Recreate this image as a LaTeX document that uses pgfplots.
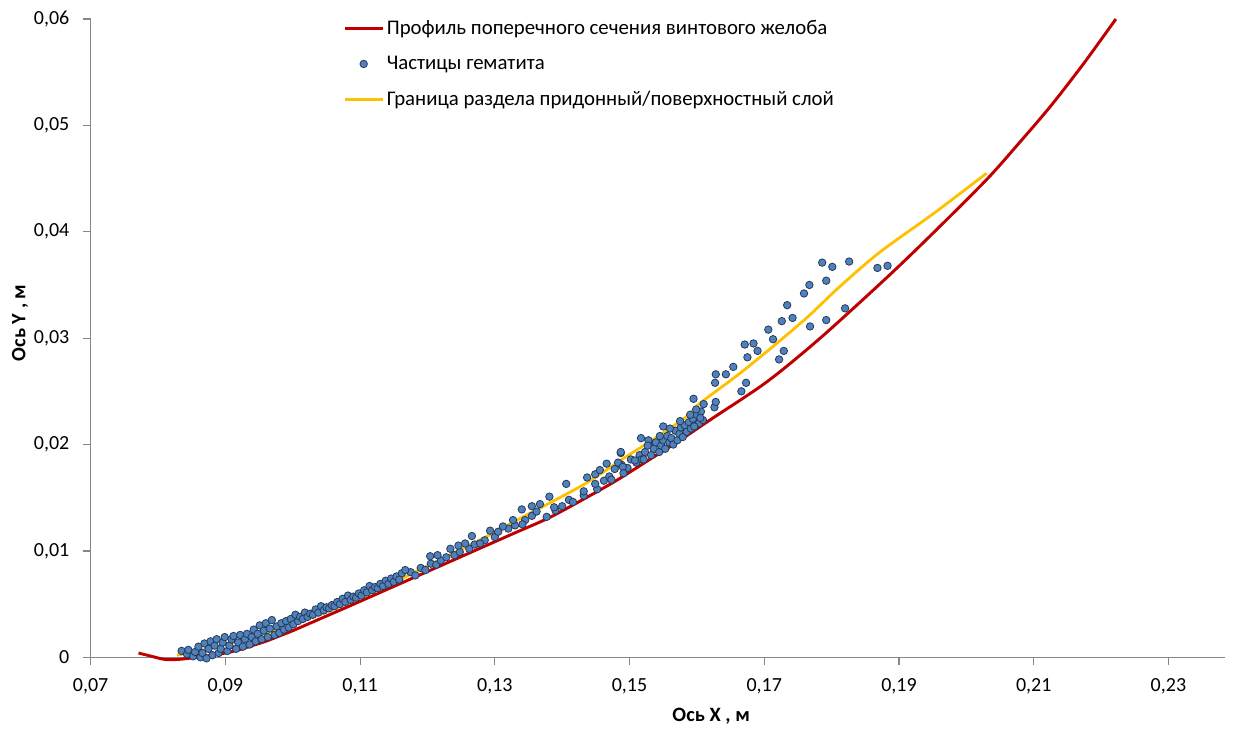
\documentclass[border=0pt]{standalone}
\usepackage{fontspec}
\setmainfont{Carlito}
\usepackage{pgfplots}
\pgfplotsset{compat=1.18}
\definecolor{redc}{RGB}{192,0,0}
\definecolor{yelc}{RGB}{255,192,0}
\definecolor{dotf}{RGB}{79,129,189}
\definecolor{dotd}{RGB}{38,58,88}
\definecolor{axg}{RGB}{134,134,134}
\begin{document}
\begin{tikzpicture}
\begin{axis}[name=ax, scale only axis, width=850.7pt, height=478.7pt,
 xmin=0.07, xmax=0.2384, ymin=0, ymax=0.06, clip=false,
 axis lines=left, axis line style={-, draw=axg, line width=0.9pt},
 xtick={0.07,0.09,0.11,0.13,0.15,0.17,0.19,0.21,0.23},
 ytick={0,0.01,0.02,0.03,0.04,0.05,0.06},
 tick align=outside, major tick length=6pt, tick style={draw=axg, line width=0.9pt},
 scaled ticks=false,
 ticklabel style={font=\fontsize{15}{18}\selectfont, /pgf/number format/fixed, /pgf/number format/precision=2, /pgf/number format/use comma, /pgf/number format/assume math mode=true},
 xticklabel style={yshift=-6.5pt},
 yticklabel style={xshift=-6.5pt},
 xlabel={Ось X , м}, ylabel={Ось Y , м},
 label style={font=\fontsize{15.3}{18}\selectfont\bfseries},
 xlabel style={at={(axis description cs:0.547,0)}, anchor=center, yshift=-44.5pt},
 ylabel style={at={(axis description cs:0,0.524)}, anchor=center, yshift=53pt},
 legend style={draw=none, fill=none, at={(axis description cs:0.2224,1.002)}, anchor=north west, font=\fontsize{15.6}{18.7}\selectfont, row sep=10.6pt, inner sep=0pt},
 legend cell align=left,
 legend image code/.code={\draw[mark repeat=2,mark phase=2,#1] plot coordinates {(0pt,0pt) (14.25pt,0pt) (28.5pt,0pt)};},
]
\addplot[redc, line width=2.2pt, no marks, smooth] table {
0.0771 0.0004
0.0790 0.0001
0.0810 -0.0002
0.0830 -0.0002
0.0845 -0.0001
0.0860 0.0000
0.0880 0.0002
0.0900 0.0004
0.0920 0.0007
0.0940 0.0011
0.0960 0.0015
0.0980 0.0020
0.1000 0.0025
0.1040 0.0036
0.1080 0.0047
0.1130 0.0061
0.1180 0.0075
0.1230 0.0089
0.1280 0.0103
0.1330 0.0117
0.1380 0.0131
0.1430 0.0148
0.1480 0.0166
0.1530 0.0186
0.1570 0.0202
0.1624 0.0225
0.1704 0.0259
0.1783 0.0300
0.1882 0.0357
0.1951 0.0399
0.2030 0.0449
0.2075 0.0481
0.2125 0.0518
0.2174 0.0558
0.2222 0.0600
};
\addlegendentry{Профиль поперечного сечения винтового желоба}
\addplot[only marks, mark=*, mark size=2.8pt, mark options={fill=dotf, draw=dotd, line width=0.6pt}] table {
0.0835 0.0006
0.0843 0.0003
0.0845 0.0007
0.0852 0.0001
0.0855 0.0005
0.0860 0.0010
0.0863 0.0000
0.0866 0.0004
0.0869 0.0013
0.0872 -0.0001
0.0875 0.0008
0.0878 0.0015
0.0881 0.0002
0.0884 0.0011
0.0887 0.0017
0.0890 0.0004
0.0893 0.0008
0.0896 0.0014
0.0899 0.0019
0.0903 0.0006
0.0906 0.0011
0.0909 0.0017
0.0912 0.0020
0.0916 0.0008
0.0919 0.0014
0.0922 0.0021
0.0926 0.0010
0.0929 0.0017
0.0932 0.0022
0.0936 0.0012
0.0939 0.0019
0.0942 0.0026
0.0945 0.0015
0.0948 0.0022
0.0951 0.0030
0.0954 0.0017
0.0957 0.0025
0.0960 0.0032
0.0963 0.0019
0.0966 0.0027
0.0969 0.0035
0.0973 0.0021
0.0976 0.0029
0.0980 0.0023
0.0983 0.0032
0.0987 0.0026
0.0990 0.0034
0.0994 0.0028
0.0997 0.0036
0.1001 0.0031
0.1004 0.0040
0.1008 0.0034
0.1011 0.0038
0.1015 0.0036
0.1018 0.0042
0.1022 0.0038
0.1026 0.0041
0.1030 0.0040
0.1034 0.0045
0.1038 0.0042
0.1042 0.0048
0.1046 0.0044
0.1050 0.0047
0.1054 0.0046
0.1058 0.0049
0.1062 0.0048
0.1066 0.0052
0.1070 0.0050
0.1074 0.0055
0.1078 0.0052
0.1082 0.0058
0.1086 0.0054
0.1090 0.0057
0.1094 0.0056
0.1098 0.0060
0.1102 0.0058
0.1106 0.0063
0.1110 0.0061
0.1114 0.0067
0.1118 0.0063
0.1122 0.0066
0.1126 0.0065
0.1130 0.0069
0.1134 0.0067
0.1138 0.0072
0.1142 0.0069
0.1146 0.0074
0.1150 0.0071
0.1154 0.0076
0.1158 0.0073
0.1162 0.0079
0.1175 0.0080
0.1182 0.0077
0.1190 0.0084
0.1197 0.0082
0.1205 0.0088
0.1213 0.0087
0.1220 0.0091
0.1228 0.0094
0.1240 0.0096
0.1248 0.0099
0.1262 0.0102
0.1270 0.0106
0.1285 0.0110
0.1300 0.0113
0.1305 0.0118
0.1320 0.0121
0.1330 0.0124
0.1345 0.0129
0.1355 0.0133
0.1390 0.0138
0.1400 0.0142
0.1410 0.0148
0.1432 0.0152
0.1452 0.0158
0.1462 0.0166
0.1470 0.0170
0.1478 0.0177
0.1488 0.0181
0.1497 0.0178
0.1502 0.0186
0.1510 0.0183
0.1515 0.0190
0.1518 0.0186
0.1167 0.0082
0.1204 0.0095
0.1215 0.0096
0.1234 0.0102
0.1246 0.0105
0.1256 0.0107
0.1266 0.0114
0.1278 0.0107
0.1293 0.0119
0.1312 0.0123
0.1327 0.0129
0.1341 0.0125
0.1340 0.0139
0.1355 0.0142
0.1367 0.0144
0.1362 0.0137
0.1377 0.0132
0.1388 0.0141
0.1381 0.0151
0.1406 0.0163
0.1416 0.0146
0.1432 0.0156
0.1437 0.0169
0.1449 0.0163
0.1449 0.0172
0.1456 0.0176
0.1466 0.0182
0.1473 0.0167
0.1487 0.0192
0.1483 0.0183
0.1490 0.0179
0.1491 0.0173
0.1508 0.0185
0.1517 0.0206
0.1521 0.0186
0.1528 0.0204
0.1538 0.0201
0.1550 0.0217
0.1523 0.0193
0.1527 0.0199
0.1532 0.0190
0.1536 0.0196
0.1539 0.0202
0.1544 0.0193
0.1547 0.0199
0.1550 0.0204
0.1553 0.0196
0.1556 0.0208
0.1559 0.0202
0.1562 0.0206
0.1565 0.0200
0.1568 0.0213
0.1571 0.0204
0.1574 0.0210
0.1576 0.0216
0.1579 0.0207
0.1582 0.0218
0.1585 0.0212
0.1588 0.0221
0.1591 0.0215
0.1594 0.0224
0.1597 0.0218
0.1600 0.0228
0.1603 0.0220
0.1606 0.0231
0.1609 0.0223
0.1590 0.0228
0.1575 0.0222
0.1560 0.0215
0.1545 0.0208
0.1605 0.0225
0.1599 0.0233
0.1596 0.0217
0.1595 0.0243
0.1610 0.0238
0.1626 0.0235
0.1628 0.0240
0.1487 0.0193
0.1786 0.0371
0.1801 0.0367
0.1826 0.0372
0.1868 0.0366
0.1883 0.0368
0.1767 0.0350
0.1792 0.0354
0.1759 0.0342
0.1734 0.0331
0.1726 0.0316
0.1742 0.0319
0.1768 0.0311
0.1792 0.0317
0.1820 0.0328
0.1706 0.0308
0.1713 0.0299
0.1671 0.0294
0.1684 0.0295
0.1690 0.0288
0.1675 0.0282
0.1722 0.0280
0.1729 0.0288
0.1654 0.0273
0.1643 0.0266
0.1628 0.0266
0.1627 0.0258
0.1673 0.0258
0.1666 0.0250
};
\addlegendentry{Частицы гематита}
\addplot[yelc, line width=2.1pt, no marks, smooth] table {
0.0828 0.0002
0.0860 0.0006
0.0907 0.0013
0.0981 0.0027
0.1055 0.0044
0.1130 0.0064
0.1200 0.0086
0.1280 0.0111
0.1333 0.0129
0.1431 0.0162
0.1491 0.0187
0.1521 0.0199
0.1580 0.0224
0.1605 0.0239
0.1664 0.0267
0.1724 0.0298
0.1768 0.0322
0.1813 0.0349
0.1872 0.0381
0.1951 0.0417
0.2030 0.0455
};
\addlegendentry{Граница раздела придонный/поверхностный слой}
\end{axis}
\pgfresetboundingbox
\path ([shift={(-68.0pt,-53.8pt)}]ax.south west) rectangle ([shift={(7.5pt,14.25pt)}]ax.north east);
\end{tikzpicture}
\end{document}
